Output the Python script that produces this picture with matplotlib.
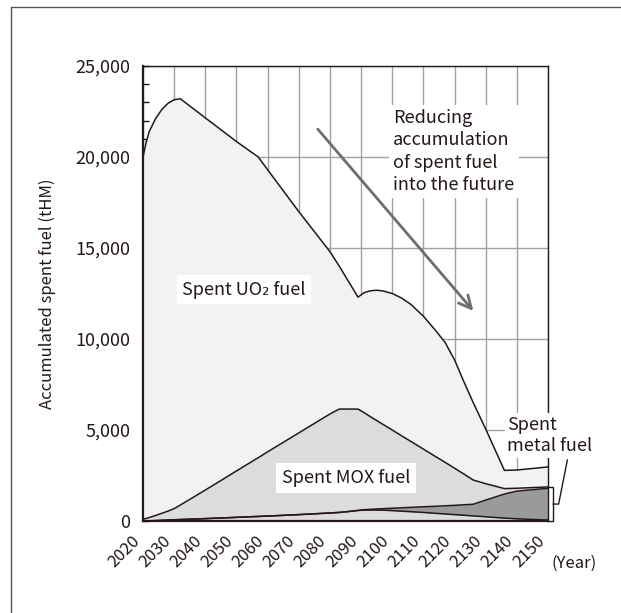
import numpy as np
import matplotlib
matplotlib.use("Agg")
import matplotlib.pyplot as plt
from matplotlib.lines import Line2D
from matplotlib.patches import Rectangle

plt.rcParams['font.family'] = ['Noto Sans CJK JP', 'DejaVu Sans']

# years and the stacked totals (tHM)
years = [2020, 2021, 2022, 2024, 2026, 2028, 2030, 2032, 2040, 2050, 2057, 2060, 2070,
         2080, 2083, 2086, 2089, 2091, 2093, 2095, 2097, 2100, 2103, 2106, 2110, 2114,
         2117, 2120, 2123, 2126, 2130, 2136, 2140, 2150]
# thin bottom layer (black line just above the axis)
base_top = [0, 5, 10, 20, 35, 50, 65, 80, 130, 200, 250, 270, 350,
            440, 470, 520, 580, 595, 600, 600, 595, 570, 540, 510, 470, 420,
            385, 350, 315, 280, 230, 160, 120, 50]
# top of spent metal fuel (dark band)
metal_top = [0, 5, 10, 20, 35, 50, 65, 80, 130, 200, 250, 270, 350,
             440, 470, 520, 580, 620, 640, 660, 675, 700, 725, 750, 780, 810,
             835, 860, 890, 920, 1150, 1480, 1640, 1800]
# top of spent MOX fuel
mox_top = [100, 140, 190, 300, 420, 540, 680, 880, 1700, 2750, 3480, 3800, 4840,
           5880, 6150, 6150, 6150, 5950, 5730, 5520, 5310, 5000, 4680, 4370, 3950, 3530,
           3220, 2900, 2580, 2250, 2050, 1780, 1800, 1870]
# top of spent UO2 fuel (total)
uo2_top = [20000, 20800, 21400, 22100, 22600, 22950, 23150, 23200, 22150, 20850, 20000, 19300, 17000,
           14800, 14000, 13150, 12300, 12550, 12650, 12680, 12640, 12500, 12250, 11900, 11250, 10450,
           9800, 8850, 7650, 6500, 5050, 2780, 2800, 2970]

yticks = [0, 5000, 10000, 15000, 20000, 25000]
xticks = list(range(2020, 2151, 10))

ink = '#231815'

fig = plt.figure(figsize=(6.21, 6.13), dpi=100)
ax = fig.add_axes([0.2303, 0.1501, 0.6522, 0.7422])

ax.fill_between(years, 0, uo2_top, color='#f2f2f2', lw=0, zorder=2)
ax.fill_between(years, 0, mox_top, color='#dcdcdc', lw=0, zorder=3)
ax.fill_between(years, base_top, metal_top, color='#9a9a9a', lw=0, zorder=4)
for top in (uo2_top, mox_top, metal_top, base_top):
    ax.plot(years, top, color=ink, lw=1.1, zorder=5)

ax.set_xlim(2020, 2150)
ax.set_ylim(0, 25000)
ax.set_xticks(xticks)
ax.set_xticklabels([str(y) for y in xticks], rotation=45, ha='right', va='top',
                   fontsize=12, color=ink)
ax.set_yticks(yticks)
ax.set_yticklabels(['{:,}'.format(v) for v in yticks], fontsize=13, color=ink)
ax.set_yticks(range(0, 25001, 1000), minor=True)
ax.tick_params(axis='both', which='both', direction='in', length=4, width=1, color=ink)
ax.tick_params(axis='x', pad=8)
ax.tick_params(axis='y', pad=9)
ax.grid(True, color='#a0a0a0', lw=1, zorder=1)
ax.set_axisbelow(True)
for side in ('top', 'right'):
    ax.spines[side].set_color(ink)
    ax.spines[side].set_linewidth(1)
for side in ('left', 'bottom'):
    ax.spines[side].set_color(ink)
    ax.spines[side].set_linewidth(1.6)
    ax.spines[side].set_zorder(6)

ax.set_ylabel('Accumulated spent fuel (tHM)', fontsize=12, color=ink, labelpad=14)
ax.text(1.008, -0.092, '(Year)', transform=ax.transAxes, fontsize=12, color=ink,
        ha='left', va='center')

box = dict(facecolor='white', edgecolor='none', pad=4)
ax.text(2052.4, 12700, 'Spent UO\u2082 fuel', fontsize=13, color=ink, ha='center',
        va='center', bbox=box, zorder=7)
ax.text(2085.2, 2360, 'Spent MOX fuel', fontsize=13, color=ink, ha='center',
        va='center', bbox=box, zorder=7)
ax.text(2100.3, 20300, 'Reducing\naccumulation\nof spent fuel\ninto the future',
        fontsize=13, color=ink, ha='left', va='center', linespacing=1.3,
        bbox=dict(facecolor='white', edgecolor='none', pad=3), zorder=7)
ax.annotate('', xy=(2126.6, 11430), xytext=(2075.5, 21650),
            arrowprops=dict(arrowstyle='->,head_length=0.9,head_width=0.45',
                            color='#6e6e6e', lw=2), zorder=8)

# bracket marking the spent metal fuel, with leader and label
ax.add_patch(Rectangle((2150, 0), 1.7, mox_top[-1], facecolor='white', edgecolor=ink,
                       lw=1, clip_on=False, zorder=7))
ax.plot([2151.7, 2153.4, 2156.2], [930, 930, 3350], color=ink, lw=1, clip_on=False, zorder=7)
ax.text(2136.9, 4700, 'Spent\nmetal fuel', fontsize=13, color=ink, ha='left', va='center',
        linespacing=1.2, bbox=dict(facecolor='white', edgecolor='none', pad=2), zorder=7)

# outer frame of the figure
fig.add_artist(Line2D([11 / 621, 11 / 621, 1], [0, 1 - 7 / 613, 1 - 7 / 613],
                      color='#555555', lw=1))

fig.savefig('out.png', dpi=100)
